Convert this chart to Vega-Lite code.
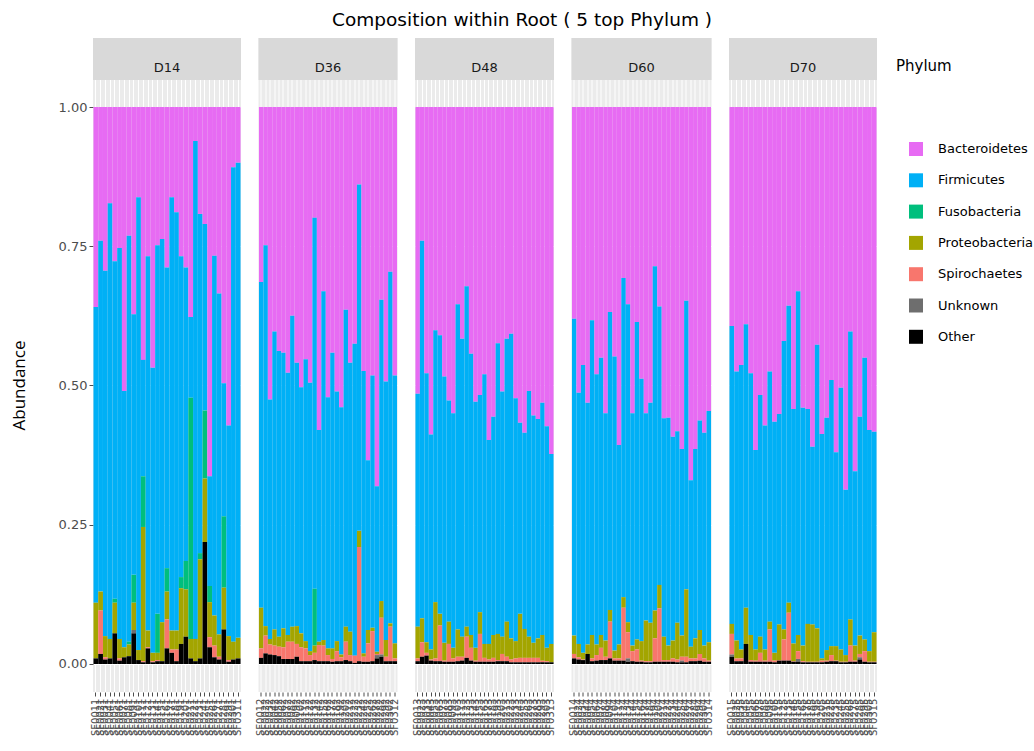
{
  "$schema": "https://vega.github.io/schema/vega-lite/v6.json",
  "padding": {"left": 10, "right": 0, "top": 10, "bottom": 0},
  "bounds": "flush",
  "title": {"text": "Composition within Root ( 5 top Phylum )", "font": "DejaVu Sans", "fontSize": 18.5, "fontWeight": "normal", "color": "#000000", "anchor": "middle", "frame": "bounds", "offset": 9},
  "datasets": {
    "abund": [
      {"Day":"D14","Sample":"SF0011","Other":0.010,"Proteobacteria":0.100,"Firmicutes":0.531,"Bacteroidetes":0.359},
      {"Day":"D14","Sample":"SF0021","Other":0.018,"Spirochaetes":0.078,"Proteobacteria":0.034,"Firmicutes":0.630,"Bacteroidetes":0.240},
      {"Day":"D14","Sample":"SF0031","Other":0.008,"Spirochaetes":0.004,"Proteobacteria":0.038,"Firmicutes":0.656,"Bacteroidetes":0.294},
      {"Day":"D14","Sample":"SF0041","Other":0.010,"Proteobacteria":0.035,"Firmicutes":0.782,"Bacteroidetes":0.173},
      {"Day":"D14","Sample":"SF0051","Other":0.055,"Proteobacteria":0.055,"Fusobacteria":0.007,"Firmicutes":0.606,"Bacteroidetes":0.277},
      {"Day":"D14","Sample":"SF0061","Other":0.006,"Spirochaetes":0.004,"Proteobacteria":0.035,"Firmicutes":0.702,"Bacteroidetes":0.253},
      {"Day":"D14","Sample":"SF0071","Other":0.012,"Proteobacteria":0.018,"Firmicutes":0.460,"Bacteroidetes":0.510},
      {"Day":"D14","Sample":"SF0081","Other":0.014,"Proteobacteria":0.021,"Fusobacteria":0.005,"Firmicutes":0.729,"Bacteroidetes":0.231},
      {"Day":"D14","Sample":"SF0091","Other":0.055,"Unknown":0.006,"Proteobacteria":0.049,"Fusobacteria":0.050,"Firmicutes":0.468,"Bacteroidetes":0.372},
      {"Day":"D14","Sample":"SF0101","Other":0.007,"Proteobacteria":0.018,"Firmicutes":0.813,"Bacteroidetes":0.162},
      {"Day":"D14","Sample":"SF0111","Other":0.003,"Spirochaetes":0.002,"Proteobacteria":0.241,"Fusobacteria":0.091,"Firmicutes":0.209,"Bacteroidetes":0.454},
      {"Day":"D14","Sample":"SF0121","Other":0.028,"Spirochaetes":0.002,"Proteobacteria":0.030,"Firmicutes":0.672,"Bacteroidetes":0.268},
      {"Day":"D14","Sample":"SF0131","Other":0.003,"Spirochaetes":0.002,"Proteobacteria":0.015,"Firmicutes":0.512,"Bacteroidetes":0.468},
      {"Day":"D14","Sample":"SF0141","Other":0.005,"Spirochaetes":0.002,"Proteobacteria":0.013,"Fusobacteria":0.070,"Firmicutes":0.662,"Bacteroidetes":0.248},
      {"Day":"D14","Sample":"SF0151","Other":0.005,"Proteobacteria":0.070,"Firmicutes":0.688,"Bacteroidetes":0.237},
      {"Day":"D14","Sample":"SF0161","Other":0.028,"Spirochaetes":0.052,"Proteobacteria":0.050,"Fusobacteria":0.042,"Firmicutes":0.540,"Bacteroidetes":0.288},
      {"Day":"D14","Sample":"SF0171","Other":0.020,"Spirochaetes":0.006,"Proteobacteria":0.034,"Firmicutes":0.778,"Bacteroidetes":0.162},
      {"Day":"D14","Sample":"SF0181","Other":0.005,"Spirochaetes":0.021,"Proteobacteria":0.034,"Firmicutes":0.751,"Bacteroidetes":0.189},
      {"Day":"D14","Sample":"SF0191","Other":0.036,"Proteobacteria":0.100,"Fusobacteria":0.020,"Firmicutes":0.576,"Bacteroidetes":0.268},
      {"Day":"D14","Sample":"SF0201","Other":0.049,"Proteobacteria":0.085,"Fusobacteria":0.051,"Firmicutes":0.527,"Bacteroidetes":0.288},
      {"Day":"D14","Sample":"SF0211","Other":0.010,"Proteobacteria":0.035,"Fusobacteria":0.433,"Firmicutes":0.145,"Bacteroidetes":0.377},
      {"Day":"D14","Sample":"SF0221","Other":0.005,"Proteobacteria":0.040,"Firmicutes":0.894,"Bacteroidetes":0.061},
      {"Day":"D14","Sample":"SF0231","Other":0.010,"Proteobacteria":0.178,"Fusobacteria":0.011,"Firmicutes":0.609,"Bacteroidetes":0.192},
      {"Day":"D14","Sample":"SF0241","Other":0.219,"Proteobacteria":0.114,"Fusobacteria":0.122,"Firmicutes":0.335,"Bacteroidetes":0.210},
      {"Day":"D14","Sample":"SF0251","Other":0.030,"Spirochaetes":0.018,"Proteobacteria":0.063,"Fusobacteria":0.029,"Firmicutes":0.197,"Bacteroidetes":0.663},
      {"Day":"D14","Sample":"SF0261","Other":0.012,"Spirochaetes":0.021,"Proteobacteria":0.054,"Firmicutes":0.646,"Bacteroidetes":0.267},
      {"Day":"D14","Sample":"SF0271","Other":0.008,"Spirochaetes":0.005,"Proteobacteria":0.040,"Firmicutes":0.612,"Bacteroidetes":0.335},
      {"Day":"D14","Sample":"SF0281","Other":0.062,"Proteobacteria":0.075,"Fusobacteria":0.128,"Firmicutes":0.239,"Bacteroidetes":0.496},
      {"Day":"D14","Sample":"SF0291","Other":0.004,"Spirochaetes":0.003,"Proteobacteria":0.043,"Firmicutes":0.378,"Bacteroidetes":0.572},
      {"Day":"D14","Sample":"SF0301","Other":0.008,"Proteobacteria":0.032,"Firmicutes":0.852,"Bacteroidetes":0.108},
      {"Day":"D14","Sample":"SF0311","Other":0.010,"Proteobacteria":0.037,"Firmicutes":0.853,"Bacteroidetes":0.100},

      {"Day":"D36","Sample":"SF0012","Other":0.011,"Spirochaetes":0.017,"Proteobacteria":0.073,"Firmicutes":0.585,"Bacteroidetes":0.314},
      {"Day":"D36","Sample":"SF0022","Other":0.019,"Spirochaetes":0.032,"Proteobacteria":0.017,"Firmicutes":0.684,"Bacteroidetes":0.248},
      {"Day":"D36","Sample":"SF0032","Other":0.017,"Spirochaetes":0.018,"Proteobacteria":0.010,"Firmicutes":0.430,"Bacteroidetes":0.525},
      {"Day":"D36","Sample":"SF0042","Other":0.016,"Spirochaetes":0.017,"Proteobacteria":0.029,"Firmicutes":0.535,"Bacteroidetes":0.403},
      {"Day":"D36","Sample":"SF0052","Other":0.014,"Spirochaetes":0.017,"Proteobacteria":0.018,"Firmicutes":0.513,"Bacteroidetes":0.438},
      {"Day":"D36","Sample":"SF0062","Other":0.009,"Spirochaetes":0.021,"Proteobacteria":0.034,"Firmicutes":0.495,"Bacteroidetes":0.441},
      {"Day":"D36","Sample":"SF0072","Other":0.009,"Spirochaetes":0.031,"Proteobacteria":0.012,"Firmicutes":0.471,"Bacteroidetes":0.477},
      {"Day":"D36","Sample":"SF0082","Other":0.009,"Spirochaetes":0.031,"Proteobacteria":0.027,"Firmicutes":0.558,"Bacteroidetes":0.375},
      {"Day":"D36","Sample":"SF0092","Other":0.013,"Spirochaetes":0.023,"Proteobacteria":0.032,"Firmicutes":0.473,"Bacteroidetes":0.459},
      {"Day":"D36","Sample":"SF0102","Other":0.005,"Spirochaetes":0.025,"Proteobacteria":0.025,"Firmicutes":0.442,"Bacteroidetes":0.503},
      {"Day":"D36","Sample":"SF0112","Other":0.005,"Spirochaetes":0.023,"Proteobacteria":0.013,"Firmicutes":0.506,"Bacteroidetes":0.453},
      {"Day":"D36","Sample":"SF0122","Other":0.005,"Spirochaetes":0.011,"Proteobacteria":0.007,"Firmicutes":0.482,"Bacteroidetes":0.495},
      {"Day":"D36","Sample":"SF0132","Other":0.007,"Spirochaetes":0.013,"Proteobacteria":0.013,"Fusobacteria":0.102,"Firmicutes":0.666,"Bacteroidetes":0.199},
      {"Day":"D36","Sample":"SF0142","Other":0.005,"Spirochaetes":0.029,"Proteobacteria":0.006,"Firmicutes":0.380,"Bacteroidetes":0.580},
      {"Day":"D36","Sample":"SF0152","Other":0.005,"Spirochaetes":0.028,"Proteobacteria":0.010,"Firmicutes":0.626,"Bacteroidetes":0.331},
      {"Day":"D36","Sample":"SF0162","Other":0.005,"Spirochaetes":0.011,"Proteobacteria":0.012,"Firmicutes":0.451,"Bacteroidetes":0.521},
      {"Day":"D36","Sample":"SF0172","Other":0.004,"Spirochaetes":0.005,"Proteobacteria":0.019,"Firmicutes":0.531,"Bacteroidetes":0.441},
      {"Day":"D36","Sample":"SF0182","Other":0.005,"Spirochaetes":0.018,"Proteobacteria":0.018,"Firmicutes":0.448,"Bacteroidetes":0.511},
      {"Day":"D36","Sample":"SF0192","Other":0.005,"Spirochaetes":0.007,"Proteobacteria":0.005,"Firmicutes":0.444,"Bacteroidetes":0.539},
      {"Day":"D36","Sample":"SF0202","Other":0.007,"Spirochaetes":0.033,"Proteobacteria":0.027,"Firmicutes":0.569,"Bacteroidetes":0.364},
      {"Day":"D36","Sample":"SF0212","Other":0.005,"Spirochaetes":0.011,"Proteobacteria":0.042,"Firmicutes":0.483,"Bacteroidetes":0.459},
      {"Day":"D36","Sample":"SF0222","Other":0.002,"Spirochaetes":0.013,"Firmicutes":0.560,"Bacteroidetes":0.425},
      {"Day":"D36","Sample":"SF0232","Other":0.005,"Spirochaetes":0.205,"Proteobacteria":0.029,"Firmicutes":0.622,"Bacteroidetes":0.139},
      {"Day":"D36","Sample":"SF0242","Other":0.004,"Spirochaetes":0.009,"Proteobacteria":0.006,"Firmicutes":0.507,"Bacteroidetes":0.474},
      {"Day":"D36","Sample":"SF0252","Other":0.004,"Spirochaetes":0.033,"Proteobacteria":0.024,"Firmicutes":0.305,"Bacteroidetes":0.634},
      {"Day":"D36","Sample":"SF0262","Other":0.005,"Spirochaetes":0.054,"Proteobacteria":0.006,"Firmicutes":0.453,"Bacteroidetes":0.482},
      {"Day":"D36","Sample":"SF0272","Other":0.010,"Unknown":0.006,"Spirochaetes":0.002,"Proteobacteria":0.004,"Firmicutes":0.297,"Bacteroidetes":0.681},
      {"Day":"D36","Sample":"SF0282","Other":0.013,"Unknown":0.004,"Spirochaetes":0.066,"Proteobacteria":0.030,"Firmicutes":0.541,"Bacteroidetes":0.346},
      {"Day":"D36","Sample":"SF0292","Other":0.005,"Spirochaetes":0.008,"Proteobacteria":0.030,"Firmicutes":0.464,"Bacteroidetes":0.493},
      {"Day":"D36","Sample":"SF0302","Other":0.005,"Spirochaetes":0.062,"Proteobacteria":0.006,"Firmicutes":0.631,"Bacteroidetes":0.296},
      {"Day":"D36","Sample":"SF0312","Other":0.005,"Spirochaetes":0.005,"Proteobacteria":0.027,"Firmicutes":0.481,"Bacteroidetes":0.482},

      {"Day":"D48","Sample":"SF0013","Other":0.005,"Spirochaetes":0.005,"Proteobacteria":0.057,"Firmicutes":0.418,"Bacteroidetes":0.515},
      {"Day":"D48","Sample":"SF0023","Other":0.013,"Spirochaetes":0.026,"Proteobacteria":0.043,"Firmicutes":0.678,"Bacteroidetes":0.240},
      {"Day":"D48","Sample":"SF0033","Other":0.015,"Spirochaetes":0.005,"Proteobacteria":0.019,"Firmicutes":0.483,"Bacteroidetes":0.478},
      {"Day":"D48","Sample":"SF0043","Other":0.006,"Spirochaetes":0.002,"Proteobacteria":0.018,"Firmicutes":0.386,"Bacteroidetes":0.588},
      {"Day":"D48","Sample":"SF0053","Other":0.005,"Spirochaetes":0.005,"Proteobacteria":0.101,"Firmicutes":0.488,"Bacteroidetes":0.401},
      {"Day":"D48","Sample":"SF0063","Other":0.005,"Spirochaetes":0.064,"Proteobacteria":0.021,"Firmicutes":0.500,"Bacteroidetes":0.410},
      {"Day":"D48","Sample":"SF0073","Other":0.004,"Spirochaetes":0.002,"Proteobacteria":0.032,"Firmicutes":0.478,"Bacteroidetes":0.484},
      {"Day":"D48","Sample":"SF0083","Other":0.004,"Spirochaetes":0.032,"Proteobacteria":0.040,"Firmicutes":0.397,"Bacteroidetes":0.527},
      {"Day":"D48","Sample":"SF0093","Other":0.004,"Spirochaetes":0.006,"Proteobacteria":0.019,"Firmicutes":0.421,"Bacteroidetes":0.550},
      {"Day":"D48","Sample":"SF0103","Other":0.005,"Spirochaetes":0.008,"Proteobacteria":0.049,"Firmicutes":0.584,"Bacteroidetes":0.354},
      {"Day":"D48","Sample":"SF0113","Other":0.006,"Spirochaetes":0.007,"Proteobacteria":0.036,"Firmicutes":0.535,"Bacteroidetes":0.416},
      {"Day":"D48","Sample":"SF0123","Other":0.011,"Spirochaetes":0.038,"Proteobacteria":0.018,"Firmicutes":0.611,"Bacteroidetes":0.322},
      {"Day":"D48","Sample":"SF0133","Other":0.006,"Spirochaetes":0.023,"Proteobacteria":0.023,"Firmicutes":0.505,"Bacteroidetes":0.443},
      {"Day":"D48","Sample":"SF0143","Other":0.004,"Spirochaetes":0.002,"Proteobacteria":0.023,"Firmicutes":0.442,"Bacteroidetes":0.529},
      {"Day":"D48","Sample":"SF0153","Other":0.004,"Spirochaetes":0.050,"Proteobacteria":0.039,"Firmicutes":0.390,"Bacteroidetes":0.517},
      {"Day":"D48","Sample":"SF0163","Other":0.004,"Spirochaetes":0.007,"Proteobacteria":0.025,"Firmicutes":0.484,"Bacteroidetes":0.480},
      {"Day":"D48","Sample":"SF0173","Other":0.004,"Spirochaetes":0.004,"Proteobacteria":0.028,"Firmicutes":0.366,"Bacteroidetes":0.598},
      {"Day":"D48","Sample":"SF0183","Other":0.004,"Spirochaetes":0.007,"Proteobacteria":0.041,"Firmicutes":0.392,"Bacteroidetes":0.556},
      {"Day":"D48","Sample":"SF0193","Other":0.005,"Spirochaetes":0.002,"Proteobacteria":0.047,"Firmicutes":0.522,"Bacteroidetes":0.424},
      {"Day":"D48","Sample":"SF0203","Other":0.005,"Spirochaetes":0.013,"Proteobacteria":0.031,"Firmicutes":0.440,"Bacteroidetes":0.511},
      {"Day":"D48","Sample":"SF0213","Other":0.005,"Spirochaetes":0.008,"Proteobacteria":0.063,"Firmicutes":0.508,"Bacteroidetes":0.416},
      {"Day":"D48","Sample":"SF0223","Other":0.003,"Spirochaetes":0.005,"Proteobacteria":0.038,"Firmicutes":0.547,"Bacteroidetes":0.407},
      {"Day":"D48","Sample":"SF0233","Other":0.003,"Spirochaetes":0.007,"Proteobacteria":0.031,"Firmicutes":0.436,"Bacteroidetes":0.523},
      {"Day":"D48","Sample":"SF0243","Other":0.003,"Spirochaetes":0.008,"Proteobacteria":0.079,"Firmicutes":0.343,"Bacteroidetes":0.567},
      {"Day":"D48","Sample":"SF0253","Other":0.003,"Spirochaetes":0.008,"Proteobacteria":0.052,"Firmicutes":0.352,"Bacteroidetes":0.585},
      {"Day":"D48","Sample":"SF0263","Other":0.003,"Spirochaetes":0.008,"Proteobacteria":0.038,"Firmicutes":0.441,"Bacteroidetes":0.510},
      {"Day":"D48","Sample":"SF0273","Other":0.003,"Spirochaetes":0.008,"Proteobacteria":0.027,"Firmicutes":0.408,"Bacteroidetes":0.554},
      {"Day":"D48","Sample":"SF0283","Other":0.003,"Spirochaetes":0.008,"Proteobacteria":0.035,"Firmicutes":0.394,"Bacteroidetes":0.560},
      {"Day":"D48","Sample":"SF0293","Other":0.003,"Spirochaetes":0.003,"Proteobacteria":0.046,"Firmicutes":0.417,"Bacteroidetes":0.531},
      {"Day":"D48","Sample":"SF0303","Other":0.003,"Spirochaetes":0.002,"Proteobacteria":0.024,"Firmicutes":0.398,"Bacteroidetes":0.573},
      {"Day":"D48","Sample":"SF0313","Other":0.003,"Proteobacteria":0.033,"Firmicutes":0.341,"Bacteroidetes":0.623},

      {"Day":"D60","Sample":"SF0014","Other":0.010,"Spirochaetes":0.008,"Proteobacteria":0.033,"Firmicutes":0.569,"Bacteroidetes":0.380},
      {"Day":"D60","Sample":"SF0024","Other":0.008,"Spirochaetes":0.004,"Proteobacteria":0.024,"Firmicutes":0.451,"Bacteroidetes":0.513},
      {"Day":"D60","Sample":"SF0034","Other":0.007,"Spirochaetes":0.001,"Proteobacteria":0.012,"Firmicutes":0.517,"Bacteroidetes":0.463},
      {"Day":"D60","Sample":"SF0044","Other":0.018,"Proteobacteria":0.017,"Firmicutes":0.434,"Bacteroidetes":0.531},
      {"Day":"D60","Sample":"SF0054","Other":0.005,"Spirochaetes":0.005,"Proteobacteria":0.042,"Firmicutes":0.565,"Bacteroidetes":0.383},
      {"Day":"D60","Sample":"SF0064","Other":0.006,"Spirochaetes":0.010,"Proteobacteria":0.019,"Firmicutes":0.485,"Bacteroidetes":0.480},
      {"Day":"D60","Sample":"SF0074","Other":0.007,"Spirochaetes":0.022,"Proteobacteria":0.023,"Firmicutes":0.498,"Bacteroidetes":0.450},
      {"Day":"D60","Sample":"SF0084","Other":0.007,"Spirochaetes":0.006,"Proteobacteria":0.029,"Firmicutes":0.408,"Bacteroidetes":0.550},
      {"Day":"D60","Sample":"SF0094","Other":0.010,"Spirochaetes":0.066,"Proteobacteria":0.021,"Firmicutes":0.535,"Bacteroidetes":0.368},
      {"Day":"D60","Sample":"SF0104","Other":0.006,"Spirochaetes":0.004,"Proteobacteria":0.014,"Firmicutes":0.528,"Bacteroidetes":0.448},
      {"Day":"D60","Sample":"SF0114","Other":0.006,"Spirochaetes":0.004,"Proteobacteria":0.025,"Firmicutes":0.358,"Bacteroidetes":0.607},
      {"Day":"D60","Sample":"SF0124","Other":0.006,"Spirochaetes":0.095,"Proteobacteria":0.019,"Firmicutes":0.573,"Bacteroidetes":0.307},
      {"Day":"D60","Sample":"SF0134","Other":0.004,"Unknown":0.006,"Spirochaetes":0.047,"Proteobacteria":0.018,"Firmicutes":0.571,"Bacteroidetes":0.354},
      {"Day":"D60","Sample":"SF0144","Other":0.005,"Spirochaetes":0.018,"Proteobacteria":0.010,"Firmicutes":0.417,"Bacteroidetes":0.550},
      {"Day":"D60","Sample":"SF0154","Other":0.004,"Spirochaetes":0.022,"Proteobacteria":0.018,"Firmicutes":0.570,"Bacteroidetes":0.386},
      {"Day":"D60","Sample":"SF0164","Other":0.004,"Spirochaetes":0.002,"Proteobacteria":0.035,"Firmicutes":0.471,"Bacteroidetes":0.488},
      {"Day":"D60","Sample":"SF0174","Other":0.003,"Spirochaetes":0.002,"Proteobacteria":0.073,"Firmicutes":0.372,"Bacteroidetes":0.550},
      {"Day":"D60","Sample":"SF0184","Other":0.003,"Spirochaetes":0.002,"Proteobacteria":0.069,"Firmicutes":0.395,"Bacteroidetes":0.531},
      {"Day":"D60","Sample":"SF0194","Other":0.004,"Spirochaetes":0.042,"Proteobacteria":0.050,"Firmicutes":0.618,"Bacteroidetes":0.286},
      {"Day":"D60","Sample":"SF0204","Other":0.004,"Spirochaetes":0.096,"Proteobacteria":0.042,"Firmicutes":0.500,"Bacteroidetes":0.358},
      {"Day":"D60","Sample":"SF0214","Other":0.004,"Spirochaetes":0.003,"Proteobacteria":0.042,"Firmicutes":0.392,"Bacteroidetes":0.559},
      {"Day":"D60","Sample":"SF0224","Other":0.004,"Spirochaetes":0.003,"Proteobacteria":0.026,"Firmicutes":0.409,"Bacteroidetes":0.558},
      {"Day":"D60","Sample":"SF0234","Other":0.004,"Spirochaetes":0.006,"Proteobacteria":0.032,"Firmicutes":0.366,"Bacteroidetes":0.592},
      {"Day":"D60","Sample":"SF0244","Other":0.003,"Spirochaetes":0.005,"Proteobacteria":0.066,"Firmicutes":0.344,"Bacteroidetes":0.582},
      {"Day":"D60","Sample":"SF0254","Other":0.003,"Unknown":0.003,"Spirochaetes":0.007,"Proteobacteria":0.038,"Firmicutes":0.335,"Bacteroidetes":0.614},
      {"Day":"D60","Sample":"SF0264","Other":0.003,"Spirochaetes":0.010,"Proteobacteria":0.121,"Firmicutes":0.518,"Bacteroidetes":0.348},
      {"Day":"D60","Sample":"SF0274","Other":0.005,"Spirochaetes":0.005,"Proteobacteria":0.021,"Firmicutes":0.299,"Bacteroidetes":0.670},
      {"Day":"D60","Sample":"SF0284","Other":0.005,"Spirochaetes":0.005,"Proteobacteria":0.036,"Firmicutes":0.340,"Bacteroidetes":0.614},
      {"Day":"D60","Sample":"SF0294","Other":0.006,"Spirochaetes":0.012,"Proteobacteria":0.043,"Firmicutes":0.376,"Bacteroidetes":0.563},
      {"Day":"D60","Sample":"SF0304","Other":0.004,"Spirochaetes":0.006,"Proteobacteria":0.023,"Firmicutes":0.382,"Bacteroidetes":0.585},
      {"Day":"D60","Sample":"SF0314","Other":0.004,"Spirochaetes":0.002,"Proteobacteria":0.033,"Firmicutes":0.415,"Bacteroidetes":0.546},

      {"Day":"D70","Sample":"SF0015","Other":0.013,"Unknown":0.004,"Spirochaetes":0.037,"Proteobacteria":0.018,"Firmicutes":0.535,"Bacteroidetes":0.393},
      {"Day":"D70","Sample":"SF0025","Other":0.005,"Spirochaetes":0.005,"Proteobacteria":0.032,"Firmicutes":0.483,"Bacteroidetes":0.475},
      {"Day":"D70","Sample":"SF0035","Other":0.005,"Spirochaetes":0.005,"Proteobacteria":0.016,"Firmicutes":0.511,"Bacteroidetes":0.463},
      {"Day":"D70","Sample":"SF0045","Other":0.036,"Proteobacteria":0.065,"Firmicutes":0.509,"Bacteroidetes":0.390},
      {"Day":"D70","Sample":"SF0055","Other":0.004,"Spirochaetes":0.003,"Proteobacteria":0.045,"Firmicutes":0.470,"Bacteroidetes":0.478},
      {"Day":"D70","Sample":"SF0065","Other":0.004,"Spirochaetes":0.002,"Proteobacteria":0.020,"Firmicutes":0.358,"Bacteroidetes":0.616},
      {"Day":"D70","Sample":"SF0075","Other":0.004,"Spirochaetes":0.016,"Proteobacteria":0.029,"Firmicutes":0.434,"Bacteroidetes":0.517},
      {"Day":"D70","Sample":"SF0085","Other":0.004,"Spirochaetes":0.002,"Proteobacteria":0.020,"Firmicutes":0.402,"Bacteroidetes":0.572},
      {"Day":"D70","Sample":"SF0095","Other":0.004,"Spirochaetes":0.058,"Proteobacteria":0.014,"Firmicutes":0.449,"Bacteroidetes":0.475},
      {"Day":"D70","Sample":"SF0105","Other":0.003,"Spirochaetes":0.003,"Proteobacteria":0.014,"Firmicutes":0.415,"Bacteroidetes":0.565},
      {"Day":"D70","Sample":"SF0115","Other":0.006,"Spirochaetes":0.001,"Proteobacteria":0.064,"Firmicutes":0.378,"Bacteroidetes":0.551},
      {"Day":"D70","Sample":"SF0125","Other":0.006,"Spirochaetes":0.038,"Proteobacteria":0.018,"Firmicutes":0.518,"Bacteroidetes":0.420},
      {"Day":"D70","Sample":"SF0135","Other":0.006,"Spirochaetes":0.086,"Proteobacteria":0.018,"Firmicutes":0.533,"Bacteroidetes":0.357},
      {"Day":"D70","Sample":"SF0145","Other":0.004,"Spirochaetes":0.001,"Proteobacteria":0.032,"Firmicutes":0.421,"Bacteroidetes":0.542},
      {"Day":"D70","Sample":"SF0155","Other":0.004,"Unknown":0.005,"Spirochaetes":0.014,"Proteobacteria":0.029,"Firmicutes":0.617,"Bacteroidetes":0.331},
      {"Day":"D70","Sample":"SF0165","Other":0.003,"Spirochaetes":0.002,"Proteobacteria":0.028,"Firmicutes":0.427,"Bacteroidetes":0.540},
      {"Day":"D70","Sample":"SF0175","Other":0.003,"Spirochaetes":0.001,"Proteobacteria":0.068,"Firmicutes":0.386,"Bacteroidetes":0.542},
      {"Day":"D70","Sample":"SF0185","Other":0.003,"Spirochaetes":0.001,"Proteobacteria":0.067,"Firmicutes":0.319,"Bacteroidetes":0.610},
      {"Day":"D70","Sample":"SF0195","Other":0.003,"Spirochaetes":0.001,"Proteobacteria":0.060,"Firmicutes":0.509,"Bacteroidetes":0.427},
      {"Day":"D70","Sample":"SF0205","Other":0.003,"Spirochaetes":0.003,"Proteobacteria":0.004,"Firmicutes":0.403,"Bacteroidetes":0.587},
      {"Day":"D70","Sample":"SF0215","Other":0.004,"Spirochaetes":0.002,"Proteobacteria":0.019,"Firmicutes":0.417,"Bacteroidetes":0.558},
      {"Day":"D70","Sample":"SF0225","Other":0.005,"Spirochaetes":0.011,"Proteobacteria":0.016,"Firmicutes":0.478,"Bacteroidetes":0.490},
      {"Day":"D70","Sample":"SF0235","Other":0.005,"Spirochaetes":0.001,"Proteobacteria":0.026,"Firmicutes":0.348,"Bacteroidetes":0.620},
      {"Day":"D70","Sample":"SF0245","Other":0.003,"Spirochaetes":0.001,"Proteobacteria":0.022,"Firmicutes":0.470,"Bacteroidetes":0.504},
      {"Day":"D70","Sample":"SF0255","Other":0.003,"Spirochaetes":0.001,"Proteobacteria":0.012,"Firmicutes":0.297,"Bacteroidetes":0.687},
      {"Day":"D70","Sample":"SF0265","Other":0.004,"Spirochaetes":0.029,"Proteobacteria":0.047,"Firmicutes":0.517,"Bacteroidetes":0.403},
      {"Day":"D70","Sample":"SF0275","Other":0.004,"Spirochaetes":0.002,"Proteobacteria":0.027,"Firmicutes":0.313,"Bacteroidetes":0.654},
      {"Day":"D70","Sample":"SF0285","Other":0.008,"Unknown":0.004,"Spirochaetes":0.006,"Proteobacteria":0.033,"Firmicutes":0.393,"Bacteroidetes":0.556},
      {"Day":"D70","Sample":"SF0295","Other":0.004,"Spirochaetes":0.019,"Proteobacteria":0.021,"Firmicutes":0.506,"Bacteroidetes":0.450},
      {"Day":"D70","Sample":"SF0305","Other":0.003,"Spirochaetes":0.001,"Proteobacteria":0.019,"Firmicutes":0.397,"Bacteroidetes":0.580},
      {"Day":"D70","Sample":"SF0315","Other":0.003,"Spirochaetes":0.001,"Proteobacteria":0.053,"Firmicutes":0.360,"Bacteroidetes":0.583}
    ]
  },
  "data": {"name": "abund"},
  "transform": [
    {"fold": ["Bacteroidetes", "Firmicutes", "Fusobacteria", "Proteobacteria", "Spirochaetes", "Unknown", "Other"], "as": ["Phylum", "Abundance"]},
    {"filter": "isValid(datum.Abundance)"},
    {"calculate": "indexof(['Other','Unknown','Spirochaetes','Proteobacteria','Fusobacteria','Firmicutes','Bacteroidetes'], datum.Phylum)", "as": "rank"}
  ],
  "spacing": 17.5,
  "resolve": {"scale": {"x": "independent", "y": "independent"}},
  "hconcat": [
    {
      "width": 148, "height": 654,
      "layer": [
        {"data": {"values": [{"Day": "D14"}]}, "mark": {"type": "rect", "color": "#D9D9D9"}, "encoding": {"x": {"value": 0}, "x2": {"value": "width"}, "y": {"datum": 1.0485, "type": "quantitative"}, "y2": {"datum": 1.1239}}},
        {"data": {"values": [{"Day": "D14"}]}, "mark": {"type": "text", "fontSize": 13, "color": "#1A1A1A", "font": "DejaVu Sans"}, "encoding": {"text": {"field": "Day"}, "y": {"datum": 1.07, "type": "quantitative"}}},
        {
          "transform": [{"filter": "datum.Day === 'D14'"}],
          "mark": {"type": "bar"},
          "encoding": {
            "x": {"field": "Sample", "type": "nominal", "sort": null, "scale": {"paddingInner": 0, "paddingOuter": 0.1}, "axis": {"title": null, "labelAngle": -90, "labelFontSize": 10, "labelPadding": 2, "labelOverlap": false, "bandPosition": 0.5, "grid": true}},
            "y": {"field": "Abundance", "type": "quantitative", "stack": "zero", "scale": {"domain": [-0.0503, 1.1239], "nice": false, "zero": false}, "axis": {"title": "Abundance", "values": [0, 0.25, 0.5, 0.75, 1], "format": ".2f", "labelFontSize": 13, "labelPadding": 2, "titleFont": "Open Sans", "titleFontSize": 17, "titleFontWeight": "normal", "titleColor": "#000000", "titlePadding": 30, "titleY": 347, "grid": true}},
            "color": {"field": "Phylum", "type": "nominal", "scale": {"domain": ["Bacteroidetes", "Firmicutes", "Fusobacteria", "Proteobacteria", "Spirochaetes", "Unknown", "Other"], "range": ["#E76BF3", "#00B0F6", "#00BF7D", "#A3A500", "#F8766D", "#6E6E6E", "#000000"]}, "legend": {"title": ["", "Phylum"]}},
            "order": {"field": "rank", "type": "quantitative"}
          }
        }
      ]
    },
    {
      "width": 139, "height": 654,
      "layer": [
        {"data": {"values": [{"Day": "D36"}]}, "mark": {"type": "rect", "color": "#D9D9D9"}, "encoding": {"x": {"value": 0}, "x2": {"value": "width"}, "y": {"datum": 1.0485, "type": "quantitative"}, "y2": {"datum": 1.1239}}},
        {"data": {"values": [{"Day": "D36"}]}, "mark": {"type": "text", "fontSize": 13, "color": "#1A1A1A", "font": "DejaVu Sans"}, "encoding": {"text": {"field": "Day"}, "y": {"datum": 1.07, "type": "quantitative"}}},
        {
          "transform": [{"filter": "datum.Day === 'D36'"}],
          "mark": {"type": "bar"},
          "encoding": {
            "x": {"field": "Sample", "type": "nominal", "sort": null, "scale": {"paddingInner": 0, "paddingOuter": 0.1}, "axis": {"title": null, "labelAngle": -90, "labelFontSize": 10, "labelPadding": 2, "labelOverlap": false, "bandPosition": 0.5, "grid": true}},
            "y": {"field": "Abundance", "type": "quantitative", "stack": "zero", "scale": {"domain": [-0.0503, 1.1239], "nice": false, "zero": false}, "axis": {"title": null, "labels": false, "ticks": false, "tickSize": 0, "labelPadding": 0, "minExtent": 0, "maxExtent": 0, "values": [0, 0.25, 0.5, 0.75, 1], "grid": true}},
            "color": {"field": "Phylum", "type": "nominal"},
            "order": {"field": "rank", "type": "quantitative"}
          }
        }
      ]
    },
    {
      "width": 139, "height": 654,
      "layer": [
        {"data": {"values": [{"Day": "D48"}]}, "mark": {"type": "rect", "color": "#D9D9D9"}, "encoding": {"x": {"value": 0}, "x2": {"value": "width"}, "y": {"datum": 1.0485, "type": "quantitative"}, "y2": {"datum": 1.1239}}},
        {"data": {"values": [{"Day": "D48"}]}, "mark": {"type": "text", "fontSize": 13, "color": "#1A1A1A", "font": "DejaVu Sans"}, "encoding": {"text": {"field": "Day"}, "y": {"datum": 1.07, "type": "quantitative"}}},
        {
          "transform": [{"filter": "datum.Day === 'D48'"}],
          "mark": {"type": "bar"},
          "encoding": {
            "x": {"field": "Sample", "type": "nominal", "sort": null, "scale": {"paddingInner": 0, "paddingOuter": 0.1}, "axis": {"title": null, "labelAngle": -90, "labelFontSize": 10, "labelPadding": 2, "labelOverlap": false, "bandPosition": 0.5, "grid": true}},
            "y": {"field": "Abundance", "type": "quantitative", "stack": "zero", "scale": {"domain": [-0.0503, 1.1239], "nice": false, "zero": false}, "axis": {"title": null, "labels": false, "ticks": false, "tickSize": 0, "labelPadding": 0, "minExtent": 0, "maxExtent": 0, "values": [0, 0.25, 0.5, 0.75, 1], "grid": true}},
            "color": {"field": "Phylum", "type": "nominal"},
            "order": {"field": "rank", "type": "quantitative"}
          }
        }
      ]
    },
    {
      "width": 140, "height": 654,
      "layer": [
        {"data": {"values": [{"Day": "D60"}]}, "mark": {"type": "rect", "color": "#D9D9D9"}, "encoding": {"x": {"value": 0}, "x2": {"value": "width"}, "y": {"datum": 1.0485, "type": "quantitative"}, "y2": {"datum": 1.1239}}},
        {"data": {"values": [{"Day": "D60"}]}, "mark": {"type": "text", "fontSize": 13, "color": "#1A1A1A", "font": "DejaVu Sans"}, "encoding": {"text": {"field": "Day"}, "y": {"datum": 1.07, "type": "quantitative"}}},
        {
          "transform": [{"filter": "datum.Day === 'D60'"}],
          "mark": {"type": "bar"},
          "encoding": {
            "x": {"field": "Sample", "type": "nominal", "sort": null, "scale": {"paddingInner": 0, "paddingOuter": 0.1}, "axis": {"title": null, "labelAngle": -90, "labelFontSize": 10, "labelPadding": 2, "labelOverlap": false, "bandPosition": 0.5, "grid": true}},
            "y": {"field": "Abundance", "type": "quantitative", "stack": "zero", "scale": {"domain": [-0.0503, 1.1239], "nice": false, "zero": false}, "axis": {"title": null, "labels": false, "ticks": false, "tickSize": 0, "labelPadding": 0, "minExtent": 0, "maxExtent": 0, "values": [0, 0.25, 0.5, 0.75, 1], "grid": true}},
            "color": {"field": "Phylum", "type": "nominal"},
            "order": {"field": "rank", "type": "quantitative"}
          }
        }
      ]
    },
    {
      "width": 148, "height": 654,
      "layer": [
        {"data": {"values": [{"Day": "D70"}]}, "mark": {"type": "rect", "color": "#D9D9D9"}, "encoding": {"x": {"value": 0}, "x2": {"value": "width"}, "y": {"datum": 1.0485, "type": "quantitative"}, "y2": {"datum": 1.1239}}},
        {"data": {"values": [{"Day": "D70"}]}, "mark": {"type": "text", "fontSize": 13, "color": "#1A1A1A", "font": "DejaVu Sans"}, "encoding": {"text": {"field": "Day"}, "y": {"datum": 1.07, "type": "quantitative"}}},
        {
          "transform": [{"filter": "datum.Day === 'D70'"}],
          "mark": {"type": "bar"},
          "encoding": {
            "x": {"field": "Sample", "type": "nominal", "sort": null, "scale": {"paddingInner": 0, "paddingOuter": 0.1}, "axis": {"title": null, "labelAngle": -90, "labelFontSize": 10, "labelPadding": 2, "labelOverlap": false, "bandPosition": 0.5, "grid": true}},
            "y": {"field": "Abundance", "type": "quantitative", "stack": "zero", "scale": {"domain": [-0.0503, 1.1239], "nice": false, "zero": false}, "axis": {"title": null, "labels": false, "ticks": false, "tickSize": 0, "labelPadding": 0, "minExtent": 0, "maxExtent": 0, "values": [0, 0.25, 0.5, 0.75, 1], "grid": true}},
            "color": {"field": "Phylum", "type": "nominal"},
            "order": {"field": "rank", "type": "quantitative"}
          }
        }
      ]
    }
  ],
  "config": {
    "font": "DejaVu Sans",
    "view": {"fill": "#EBEBEB", "stroke": null},
    "axis": {"gridColor": "#FFFFFF", "gridWidth": 1, "gridOpacity": 1, "domain": false, "tickColor": "#4D4D4D", "tickSize": 4, "labelColor": "#4D4D4D", "labelFont": "DejaVu Sans"},
    "legend": {
      "orient": "right", "offset": 17, "padding": 0,
      "titleFont": "DejaVu Sans", "titleFontSize": 15, "titleFontWeight": "normal", "titleColor": "#000000", "titleLineHeight": 21, "titlePadding": 68,
      "labelFont": "DejaVu Sans", "labelFontSize": 13, "labelColor": "#000000", "labelOffset": 15,
      "symbolType": "square", "symbolSize": 196, "symbolStrokeWidth": 0, "symbolOpacity": 1, "symbolOffset": 13,
      "rowPadding": 17.3
    }
  }
}
